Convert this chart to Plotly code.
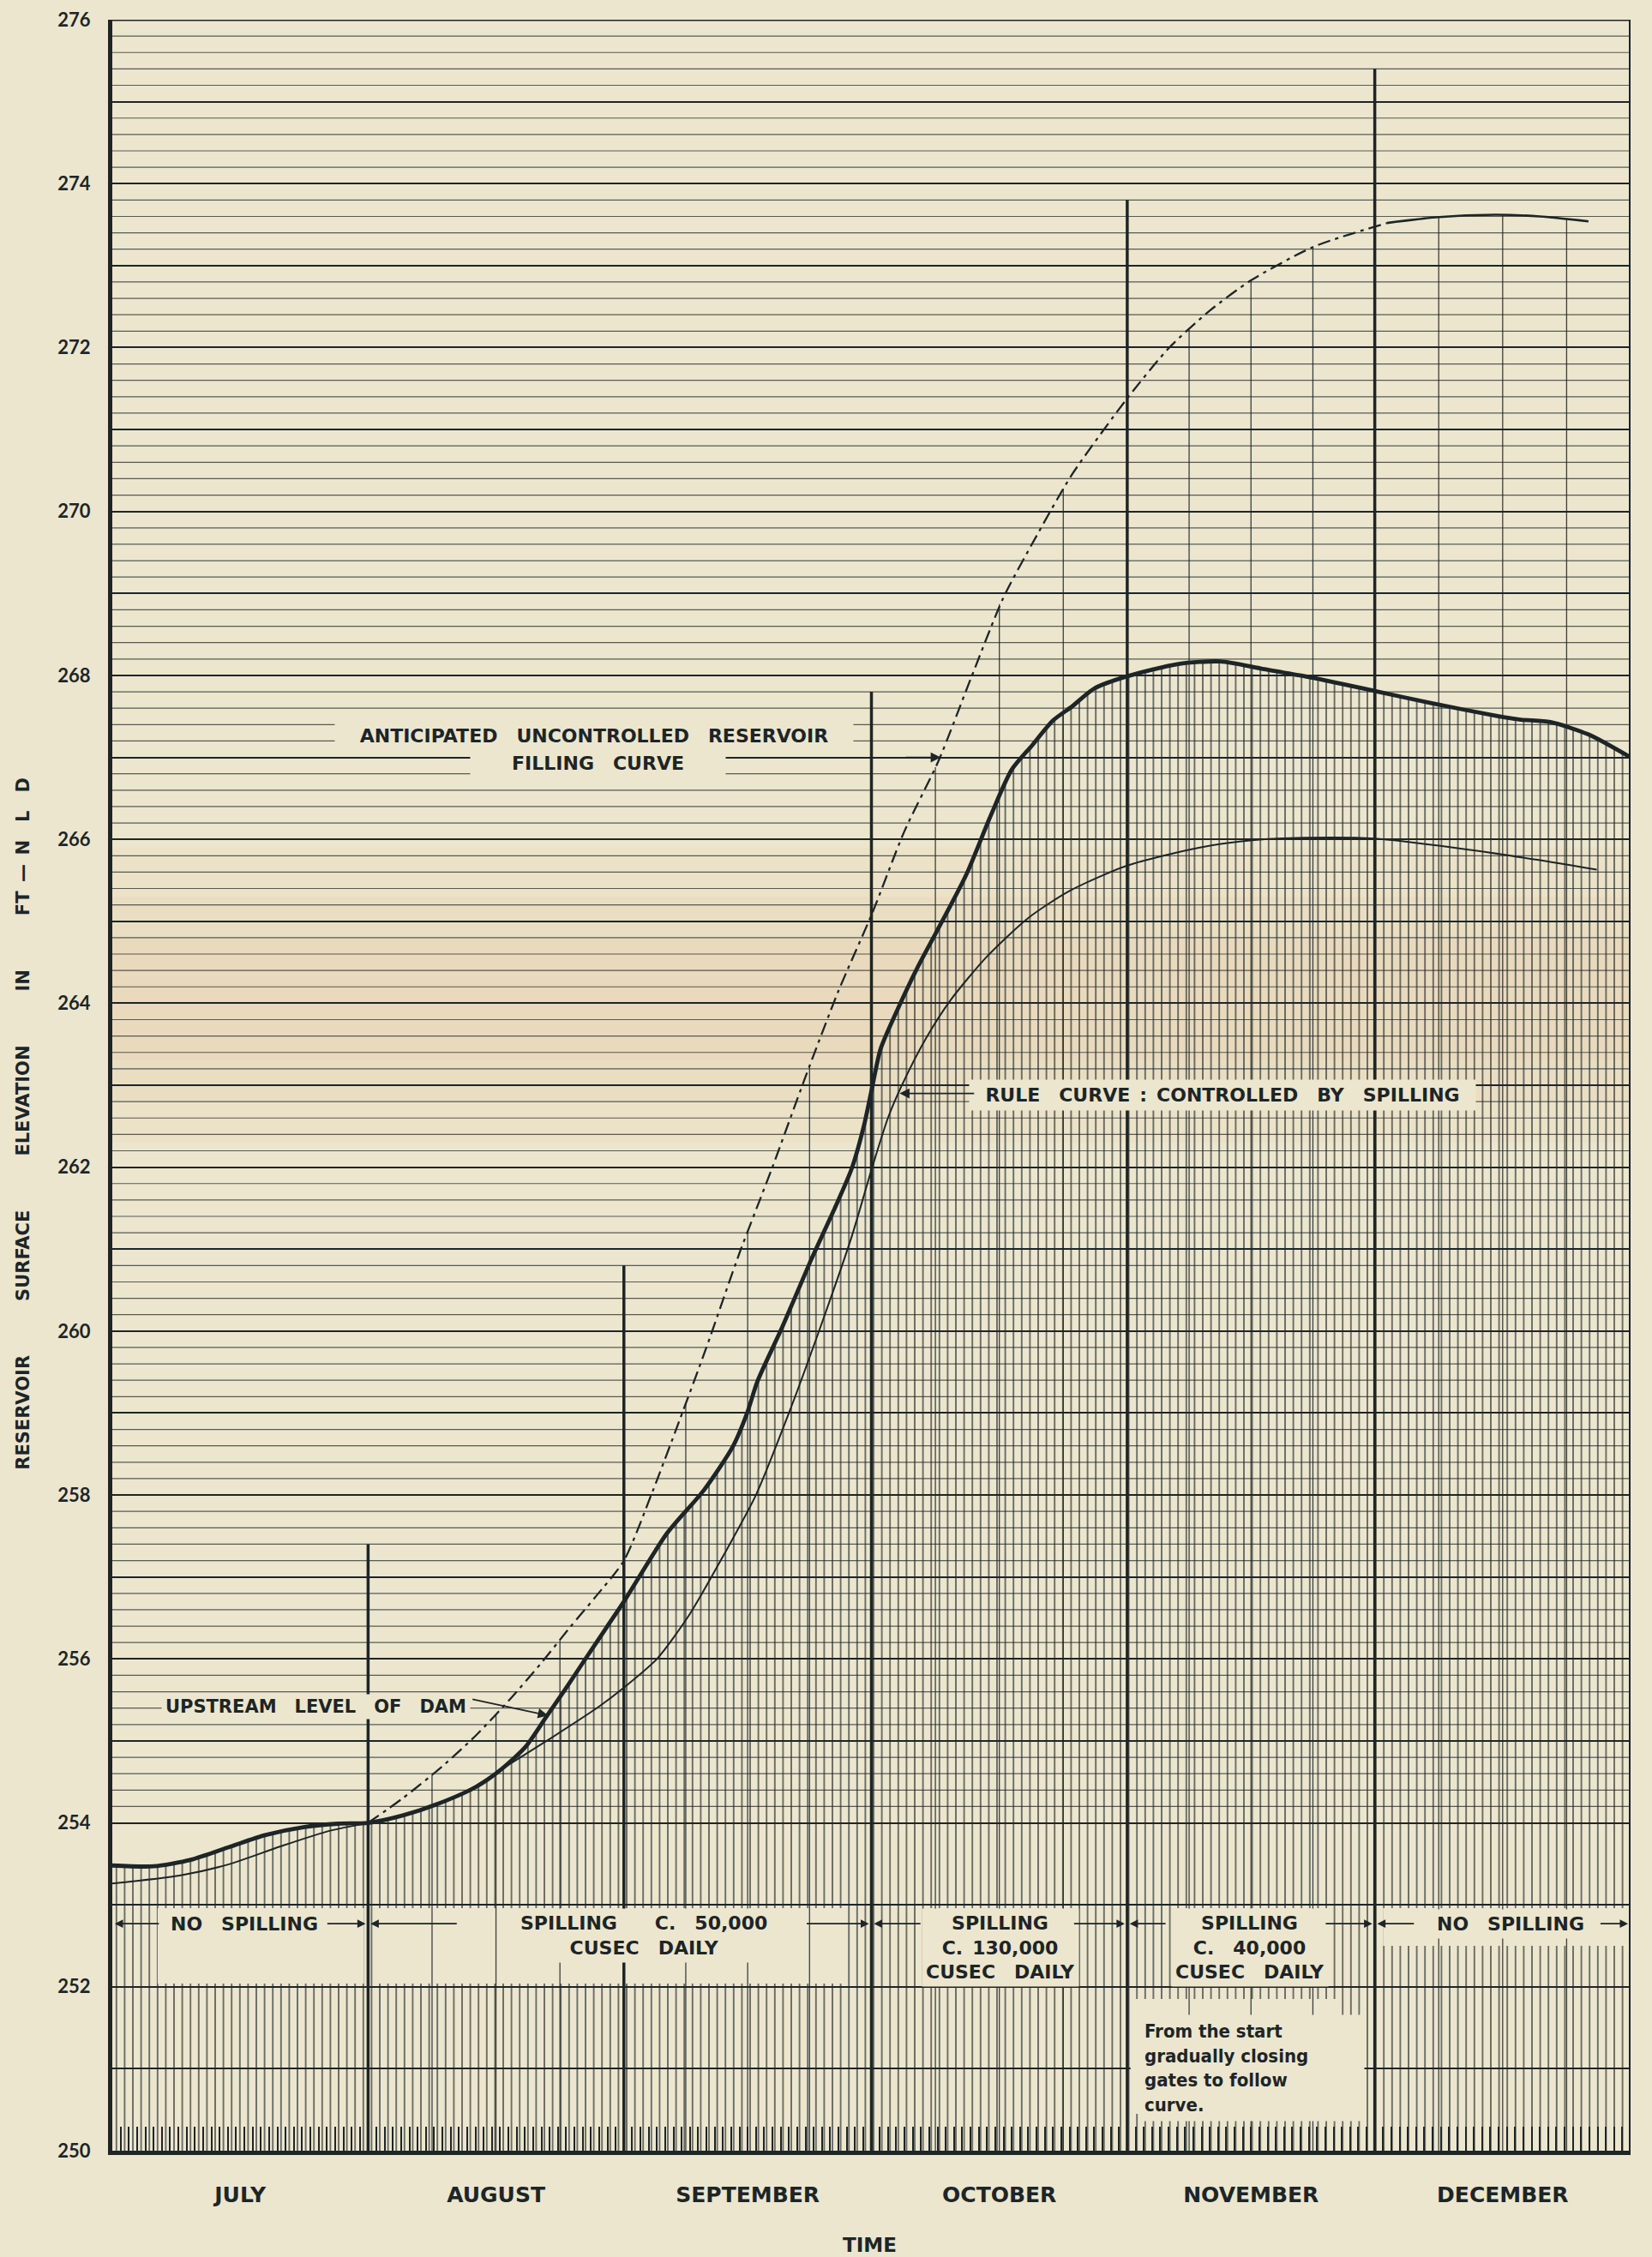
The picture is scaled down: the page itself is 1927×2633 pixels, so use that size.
import plotly.graph_objects as go

PAPER = "#ECE6CE"
INK = "#1D2527"

# ---------------- data (x = days counted from 1 July) ----------------
upstream_day = [0, 5, 9.5, 14.3, 18.5, 23.3, 27.4, 31, 35.2, 39.4, 44.1, 47.1, 50.1, 52.5,
                54.9, 57.2, 60, 62, 67.2, 71.7, 75.2, 76.9, 78.2, 81.2, 84.6, 87.6, 89.6,
                91.1, 92.1, 93.1, 95.1, 97.6, 101.1, 103.5, 106.5, 109, 111.5, 114, 116.3,
                119, 123, 129.2, 134.3, 139.4, 144.5, 153, 159.9, 167.6, 170.7, 174.3, 178.9, 184]
upstream_elev = [253.48, 253.47, 253.55, 253.71, 253.85, 253.95, 253.99, 254.0, 254.09, 254.23,
                 254.44, 254.65, 254.93, 255.28, 255.63, 255.98, 256.40, 256.70, 257.53, 258.06,
                 258.59, 258.99, 259.39, 260.05, 260.85, 261.51, 261.98, 262.51, 262.98, 263.44,
                 263.91, 264.44, 265.10, 265.57, 266.30, 266.85, 267.15, 267.45, 267.62, 267.84,
                 267.99, 268.14, 268.17, 268.08, 267.99, 267.81, 267.66, 267.51, 267.46, 267.43,
                 267.28, 267.0]

rule_day = [0, 8.3, 14.3, 20.3, 26.2, 31, 38.2, 44, 47.1, 53.1, 59, 62, 66, 70, 74, 78, 82,
            86, 89.6, 92.1, 94, 95.6, 98.6, 101.6, 106, 111, 116, 123, 131.8, 138.4, 144.5,
            153, 162.5, 172.7, 179.9]
rule_elev = [253.26, 253.36, 253.50, 253.71, 253.90, 254.0, 254.18, 254.45, 254.65, 255.03,
             255.42, 255.65, 256.0, 256.55, 257.25, 258.0, 259.0, 260.1, 261.15, 262.0, 262.6,
             262.98, 263.57, 264.04, 264.57, 265.04, 265.37, 265.68, 265.90, 265.99, 266.02,
             266.01, 265.90, 265.75, 265.63]

antic_day = [31, 35.2, 40, 44.1, 48.3, 51.9, 55.5, 58.5, 62, 65.5, 68.7, 72, 76, 80, 84, 88,
             92.1, 96, 100.1, 104, 108, 112, 116.3, 123, 128.1, 133, 138, 145.6, 154.5]
antic_elev = [254.0, 254.30, 254.69, 255.07, 255.52, 255.94, 256.39, 256.75, 257.2, 258.05,
              258.9, 259.8, 260.95, 262.0, 263.1, 264.15, 265.1, 266.1, 266.95, 267.95, 268.95,
              269.7, 270.45, 271.38, 272.0, 272.45, 272.82, 273.23, 273.52]
antic_tail_day = [154.5, 160.4, 167.6, 173, 178.9]
antic_tail_elev = [273.52, 273.59, 273.62, 273.60, 273.54]

quarter_day = [38.75, 46.5, 54.25, 69.5, 77, 84.5, 99.75, 107.5, 115.25, 130.5, 138, 145.5,
               160.75, 168.5, 176.25]
quarter_top = [254.59, 255.33, 256.23, 259.12, 261.21, 263.23, 266.88, 268.87, 270.28,
               272.22, 272.82, 273.22, 273.59, 273.62, 273.57]

boundary_day = [31, 62, 92, 123, 153]
boundary_top = [257.4, 260.8, 267.8, 273.8, 275.4]

month_names = ["JULY", "AUGUST", "SEPTEMBER", "OCTOBER", "NOVEMBER", "DECEMBER"]
month_start = [0, 31, 62, 92, 123, 153]
month_days = [31, 31, 30, 31, 30, 31]

period_text = ["NO\u2002\u2002SPILLING",
               "SPILLING\u2003\u2003C.\u2002\u200250,000<br>CUSEC\u2002\u2002DAILY",
               "SPILLING<br>C.\u2002130,000<br>CUSEC\u2002\u2002DAILY",
               "SPILLING<br>C.\u2002\u200240,000<br>CUSEC\u2002\u2002DAILY",
               "NO\u2002\u2002SPILLING"]
period_start = [0, 31, 92, 123, 153]
period_end = [31, 92, 123, 153, 184]

# ---------------- layout helpers (positions only) ----------------
period_center = [16, 64.4, 107.6, 137.9, 169.5]
period_lines = [1, 2, 3, 3, 1]
period_left_tail = [5.8, 41.9, 98.1, 127.8, 157.9]
period_right_tail = [25.9, 84, 116.4, 146.9, 180.2]
# erased parts of the hatching in the label band (x0, x1, y0, y1)
band_clear = [(5.5, 30.5, 252.04, 252.96), (31.6, 89.0, 252.04, 252.96),
              (99.0, 116.8, 252.04, 252.96), (128.3, 147.8, 252.04, 252.96),
              (154.0, 183.4, 252.50, 252.96), (123.4, 148.5, 250.45, 251.85)]
ROW1 = 252.77
ROW_STEP = 0.29

CAPS = dict(family="DejaVu Sans", size=22, color=INK, weight="bold")

fig = go.Figure()

# hatched area under the upstream level
fig.add_trace(go.Scatter(x=upstream_day, y=upstream_elev, mode="lines", fill="tozeroy",
                         line=dict(width=0, shape="spline", smoothing=0.7),
                         fillcolor="rgba(0,0,0,0)",
                         fillpattern=dict(shape="|", size=9.6, solidity=0.14, fgcolor=INK,
                                          fgopacity=0.9, bgcolor="rgba(0,0,0,0)"),
                         hoverinfo="skip", showlegend=False))

# hatching erased around the lettering
for x0, x1, y0, y1 in band_clear:
    fig.add_trace(go.Scatter(x=[x0, x1, x1, x0, x0], y=[y0, y0, y1, y1, y0], mode="lines",
                             fill="toself", fillcolor=PAPER, line=dict(width=0),
                             hoverinfo="skip", showlegend=False))

# quarter-month lines up to the anticipated curve
qx, qy = [], []
for d, t in zip(quarter_day, quarter_top):
    qx += [d, d, None]
    qy += [250, t, None]
fig.add_trace(go.Scatter(x=qx, y=qy, mode="lines", line=dict(color=INK, width=1.3),
                         opacity=0.85, hoverinfo="skip", showlegend=False))

# month boundary lines
bx, by = [], []
for d, t in zip(boundary_day, boundary_top):
    bx += [d, d, None]
    by += [250, t, None]
fig.add_trace(go.Scatter(x=bx, y=by, mode="lines", line=dict(color=INK, width=3.5),
                         hoverinfo="skip", showlegend=False))

# rule curve
fig.add_trace(go.Scatter(x=rule_day, y=rule_elev, mode="lines",
                         line=dict(color=INK, width=2, shape="spline", smoothing=0.7),
                         hoverinfo="skip", showlegend=False))
# anticipated uncontrolled filling curve
fig.add_trace(go.Scatter(x=antic_day, y=antic_elev, mode="lines",
                         line=dict(color=INK, width=2.3, shape="spline", smoothing=0.7,
                                   dash="15px,6px,4px,6px"),
                         hoverinfo="skip", showlegend=False))
fig.add_trace(go.Scatter(x=antic_tail_day, y=antic_tail_elev, mode="lines",
                         line=dict(color=INK, width=2.6, shape="spline", smoothing=0.7),
                         hoverinfo="skip", showlegend=False))
# upstream level of dam
fig.add_trace(go.Scatter(x=upstream_day, y=upstream_elev, mode="lines",
                         line=dict(color=INK, width=4.8, shape="spline", smoothing=0.7),
                         hoverinfo="skip", showlegend=False))

# dummy trace to carry the month-label axis
fig.add_trace(go.Scatter(x=[0], y=[250], xaxis="x2", mode="markers",
                         marker=dict(opacity=0), hoverinfo="skip", showlegend=False))

# ---------------- shapes: paper stain and fine horizontal rulings ----------------
shapes = []
for lo, hi, a in [(262.3, 265.9, 0.05), (262.8, 265.3, 0.05), (263.3, 264.8, 0.05)]:
    shapes.append(dict(type="rect", xref="paper", yref="y", x0=0, x1=1, y0=lo, y1=hi,
                       fillcolor=f"rgba(214,160,105,{a})", line=dict(width=0), layer="below"))
k = 0
while True:
    v = 254 + 0.2 * k
    k += 1
    if v > 275.9:
        break
    if abs(v - round(v)) < 1e-6:
        continue
    shapes.append(dict(type="line", xref="x", yref="y", x0=0, x1=184, y0=v, y1=v,
                       line=dict(color="rgba(29,37,39,0.72)", width=1.2), layer="below"))
# top and right border
shapes.append(dict(type="line", xref="x", yref="y", x0=0, x1=184, y0=276, y1=276,
                   line=dict(color=INK, width=3), layer="above"))
shapes.append(dict(type="line", xref="x", yref="y", x0=184, x1=184, y0=250, y1=276,
                   line=dict(color=INK, width=4), layer="above"))


# ---------------- annotations ----------------
def arrow(tip_x, tip_y, tail_x, tail_y, w=1.8, s=1.3):
    return dict(x=tip_x, y=tip_y, ax=tail_x, ay=tail_y, xref="x", yref="y", axref="x",
                ayref="y", text="", showarrow=True, arrowhead=2, arrowsize=s,
                arrowwidth=w, arrowcolor=INK, standoff=0)


ann = []
ann.append(dict(x=58.4, y=267.26, xref="x", yref="y", showarrow=False,
                text="ANTICIPATED\u2002\u2002UNCONTROLLED\u2002\u2002RESERVOIR",
                font=CAPS, bgcolor=PAPER, width=600, borderpad=2))
ann.append(dict(x=58.9, y=266.93, xref="x", yref="y", showarrow=False,
                text="FILLING\u2002\u2002CURVE", font=CAPS, bgcolor=PAPER, width=295,
                borderpad=1))
ann.append(arrow(100.4, 267.0, 96.0, 267.0))

ann.append(dict(x=134.5, y=262.88, xref="x", yref="y", showarrow=False,
                text="RULE\u2002\u2002CURVE\u2002:\u2002CONTROLLED\u2002\u2002BY\u2002\u2002SPILLING",
                font=CAPS, bgcolor=PAPER, width=580, borderpad=5))
ann.append(arrow(95.4, 262.9, 104.6, 262.9))

ann.append(dict(x=24.7, y=255.42, xref="x", yref="y", showarrow=False,
                text="UPSTREAM\u2002\u2002LEVEL\u2002\u2002OF\u2002\u2002DAM",
                font=dict(family="DejaVu Sans", size=21, color=INK, weight="bold"),
                bgcolor=PAPER, width=355, borderpad=2))
ann.append(arrow(52.8, 255.31, 43.5, 255.51))

for txt, c, n, s, e, lt, rt in zip(period_text, period_center, period_lines, period_start,
                                   period_end, period_left_tail, period_right_tail):
    yc = ROW1 - ROW_STEP * (n - 1) / 2
    ann.append(dict(x=c, y=yc, xref="x", yref="y", showarrow=False, text=txt,
                    font=CAPS, bgcolor=PAPER, borderpad=4))
    ann.append(arrow(s + 0.3, ROW1, lt, ROW1, w=1.6, s=1.2))
    ann.append(arrow(e - 0.3, ROW1, rt, ROW1, w=1.6, s=1.2))

ann.append(dict(x=124.4, y=251.01, xref="x", yref="y", xanchor="left", yanchor="middle",
                showarrow=False, align="left",
                text="From the start<br>gradually closing<br>gates to follow<br>curve.",
                font=dict(family="DejaVu Sans Condensed, DejaVu Sans", size=22, color=INK,
                          weight="bold"),
                bgcolor=PAPER, width=250, borderpad=6))

ann.append(dict(x=-0.0587, y=0.482, xref="paper", yref="paper", xanchor="center",
                yanchor="middle", showarrow=False, textangle=-90,
                text="RESERVOIR\u2003\u2003\u2003SURFACE\u2003\u2003\u2003ELEVATION\u2003\u2003\u2003IN\u2003\u2003\u2003FT\u2002\u2014\u2002N\u2003L\u2003D",
                font=dict(family="DejaVu Sans", size=21, color=INK, weight="bold")))
ann.append(dict(x=0.4986, y=-0.0443, xref="paper", yref="paper", xanchor="center",
                yanchor="middle", showarrow=False,
                text="TIME", font=dict(family="DejaVu Sans", size=23, color=INK,
                                       weight="bold")))

month_mid = [s + d / 2 for s, d in zip(month_start, month_days)]

fig.update_layout(
    width=1927, height=2633,
    margin=dict(l=131, r=25, t=23, b=124, autoexpand=False),
    paper_bgcolor=PAPER, plot_bgcolor=PAPER,
    showlegend=False,
    xaxis=dict(range=[0, 184], tickmode="linear", tick0=0, dtick=1, ticks="inside",
               ticklen=28, tickwidth=2, tickcolor=INK, showticklabels=False,
               showgrid=False, zeroline=False, showline=True, linewidth=5, linecolor=INK),
    xaxis2=dict(overlaying="x", side="bottom", range=[0, 184], tickmode="array",
                tickvals=month_mid, ticktext=month_names, ticks="", showgrid=False,
                showline=False, zeroline=False, ticklabelstandoff=34,
                tickfont=dict(family="DejaVu Sans", size=25, color=INK, weight="bold")),
    yaxis=dict(range=[250, 276], tickmode="linear", tick0=250, dtick=2, ticks="",
               showgrid=True, gridcolor=INK, gridwidth=2, zeroline=False,
               showline=True, linewidth=5, linecolor=INK, ticklabelstandoff=16,
               tickfont=dict(family="Lato", size=22, color=INK, weight="bold"),
               minor=dict(dtick=1, tick0=250, showgrid=True, gridcolor=INK, gridwidth=2)),
    shapes=shapes,
    annotations=ann,
)

fig.write_html("out.html",
               config={"displayModeBar": False},
               post_script="document.body.style.margin='0';"
                           "document.body.style.background='" + PAPER + "';")
